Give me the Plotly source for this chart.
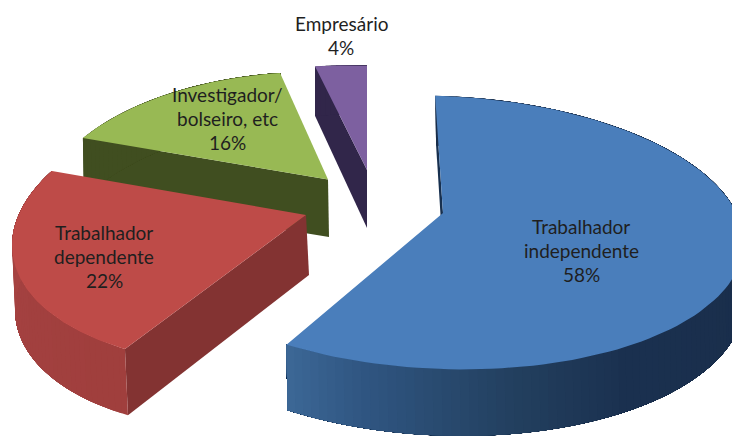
import numpy as np
import plotly.graph_objects as go

categories = ["Trabalhador\nindependente", "Trabalhador\ndependente", "Investigador/\nbolseiro, etc", "Empresário"]
values = [58, 22, 16, 4]

face_colors = ["#4a7ebb", "#be4b48", "#98b954", "#7d60a0"]
radial_wall_colors = ["#17304f", "#833332", "#404e20", "#31264a"]
outer_wall_stops = [
    [(90, "#192d49"), (150, "#1b3150"), (170, "#23405f"), (195, "#305682"), (208.8, "#3d6897")],
    [(208.8, "#a03f3d"), (240, "#a34140"), (288, "#ab4644")],
    [(288, "#404e20"), (345.6, "#404e20")],
    [(345.6, "#31264a"), (360, "#31264a")],
]

# Projection of each exploded wedge: apex, radii, shears, perspective, depth, wall drift
geometry = [
    dict(cx=443, cy=213, A=299, B=134, S=-9, T=-6, k=0.143, m=0.01, H=57, D=1),
    dict(cx=306, cy=215, A=273, B=139, S=37.6, T=0, k=0.077, m=0.05, H=60, D=3),
    dict(cx=328, cy=179.5, A=252.7, B=130.7, S=6.1, T=0, k=0.22, m=0.1, H=57.5, D=1),
    dict(cx=367, cy=170, A=244, B=125, S=0, T=0, k=0.2, m=0.1, H=58, D=0),
]
label_positions = [(581, 226), (104, 232), (227, 94), (341, 23)]
LINE_STEP = 24.3
draw_order = [2, 3, 1, 0]


def hex_rgb(c):
    return np.array([int(c[i:i + 2], 16) for i in (1, 3, 5)], dtype=float)


def wall_color(stops, t):
    ts = [s[0] for s in stops]
    rgb = np.array([hex_rgb(s[1]) for s in stops])
    mix = [np.interp(t, ts, rgb[:, i]) for i in range(3)]
    return "rgb(%d,%d,%d)" % tuple(mix)


def project(g, t_deg, r=1.0, depth=0.0):
    t = np.radians(t_deg)
    u, v = r * np.sin(t), r * np.cos(t)
    w = 1.0 / (1.0 + g["k"] * v + g["m"] * u)
    x = g["cx"] + (g["A"] * u + g["S"] * v) * w + (g["D"] * depth / g["H"])
    y = g["cy"] - (g["B"] * v + g["T"] * u) * w + depth * w
    return x, y


def polygon(fig, pts, color):
    xs, ys = zip(*pts)
    fig.add_trace(go.Scatter(
        x=list(xs) + [xs[0]], y=list(ys) + [ys[0]], mode="lines", fill="toself",
        fillcolor=color, line=dict(width=0), hoverinfo="skip", showlegend=False,
    ))


fig = go.Figure()
edges = np.concatenate([[0], np.cumsum(values)]) * 3.6

for i in draw_order:
    g = geometry[i]
    start, end = edges[i], edges[i + 1]
    H = g["H"]
    # wall along the first radial edge
    polygon(fig, [project(g, start, 0, 0), project(g, start, 1, 0),
                  project(g, start, 1, H), project(g, start, 0, H)], radial_wall_colors[i])
    # outer rim, shaded strip by strip; each strip reaches to the slice end and the next one overlaps it
    ts = np.linspace(start, end, int((end - start) / 1.5) + 2)
    for a, b in zip(ts[:-1], ts[1:]):
        arc_t = np.linspace(a, end, 40)
        top = [project(g, t, 1, 0) for t in arc_t]
        bottom = [project(g, t, 1, H) for t in arc_t[::-1]]
        polygon(fig, top + bottom, wall_color(outer_wall_stops[i], (a + b) / 2))
    # top face
    arc = [project(g, t, 1, 0) for t in np.linspace(start, end, 120)]
    polygon(fig, [project(g, start, 0, 0)] + arc, face_colors[i])

annotations = []
for name, val, (lx, ly) in zip(categories, values, label_positions):
    for n, line in enumerate(name.split("\n") + [f"{val}%"]):
        annotations.append(dict(
            x=lx, y=ly + n * LINE_STEP, text=line, showarrow=False, xref="x", yref="y",
            xanchor="center", yanchor="middle",
            font=dict(family="Lato, Carlito, Calibri, sans-serif", size=19, color="#1f1f1f"),
        ))

fig.update_layout(
    width=732, height=437, margin=dict(l=0, r=0, t=0, b=0),
    paper_bgcolor="white", plot_bgcolor="white", showlegend=False,
    xaxis=dict(range=[0, 732], visible=False, fixedrange=True),
    yaxis=dict(range=[437, 0], visible=False, fixedrange=True),
    annotations=annotations,
)
fig.write_html("out.html", config={"displayModeBar": False},
               post_script="document.body.style.margin='0';document.body.style.overflow='hidden';")
